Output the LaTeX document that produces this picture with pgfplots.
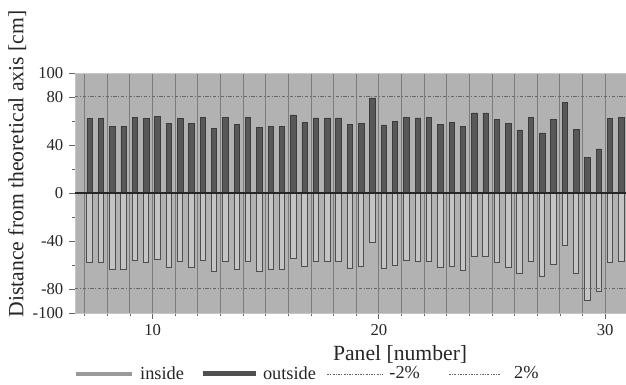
\documentclass[border=0pt]{standalone}
\usepackage{fontspec}
\setmainfont{Liberation Serif}
\usepackage{pgfplots}
\usepackage{pgfplotstable}
\pgfplotsset{compat=1.18}
\definecolor{plotbg}{HTML}{B2B2B2}
\definecolor{outfill}{HTML}{585858}
\definecolor{outdraw}{HTML}{3C3C3C}
\definecolor{infill}{HTML}{C4C4C4}
\definecolor{indraw}{HTML}{4E4E4E}
\definecolor{gridc}{HTML}{7C7C7C}
\definecolor{dashc}{HTML}{686868}
\definecolor{legin}{HTML}{9A9A9A}
\definecolor{legout}{HTML}{505050}
\pgfplotstableread{
x out in
7.22 62.2 -57.8
7.72 62.2 -57.8
8.22 55.6 -63.9
8.72 55.6 -63.9
9.22 63.3 -56.4
9.72 62.2 -57.8
10.22 63.9 -55.6
10.72 58.1 -61.7
11.22 61.9 -57.5
11.72 58.3 -61.7
12.22 63.3 -56.4
12.72 53.6 -65.6
13.22 63.3 -56.7
13.72 57.2 -63.9
14.22 62.8 -57.5
14.72 54.7 -65.3
15.22 55.6 -63.9
15.72 55.6 -63.9
16.22 65.0 -54.4
16.72 58.9 -61.1
17.22 62.5 -57.5
17.72 62.5 -57.5
18.22 62.5 -56.9
18.72 56.9 -63.1
19.22 58.1 -61.1
19.72 79.2 -41.1
20.22 56.7 -62.8
20.72 59.4 -60.6
21.22 63.1 -56.4
21.72 62.5 -57.5
22.22 63.1 -56.9
22.72 56.9 -62.5
23.22 58.9 -61.1
23.72 55.8 -64.4
24.22 66.7 -52.8
24.72 66.7 -52.8
25.22 61.4 -57.8
25.72 57.8 -61.7
26.22 52.5 -67.5
26.72 63.3 -56.9
27.22 50.0 -70.0
27.72 61.1 -59.2
28.22 75.3 -43.9
28.72 53.1 -66.7
29.22 29.7 -89.7
29.72 36.7 -82.5
30.22 61.9 -57.8
30.72 62.8 -56.7
}\data
\begin{document}
\begin{tikzpicture}
\begin{axis}[
  scale only axis, width=330.6pt, height=144pt,
  xmin=6.57, xmax=30.92, ymin=-100, ymax=100,
  axis background/.style={fill=plotbg},
  axis line style={draw=gray!45},
  xtick={10,20,30}, minor xtick={7,...,30},
  xmajorgrids, xminorgrids,
  major grid style={draw=gridc, line width=0.6pt},
  minor grid style={draw=gridc, line width=0.6pt},
  ytick={-100,-80,-40,0,40,80,100}, minor ytick={-60,-20,20,60},
  tick pos=left, tick align=outside,
  major tick length=3.5pt, minor tick length=2pt,
  tick style={color=gray!80!black, line width=0.5pt},
  ticklabel style={font=\fontsize{10}{12}\selectfont, text=black!85},
  /pgf/number format/assume math mode=true,
  xlabel={Panel [number]},
  ylabel={Distance from theoretical axis [cm]},
  label style={font=\fontsize{13}{15}\selectfont, text=black!85},
  xlabel style={at={(axis description cs:0.59,-0.2)}, anchor=base},
  ylabel style={at={(axis description cs:-0.105,0.621)}, anchor=center},
  legend columns=4,
  legend style={at={(axis description cs:-0.002,-0.254)}, anchor=west,
    draw=none, fill=none, inner sep=0pt, outer sep=0pt,
    font=\fontsize{11}{13}\selectfont, text=black!85,
    nodes={inner sep=0pt},
    /tikz/every even column/.append style={column sep=0pt}},
]
\addplot[ybar, bar width=0.24, bar shift=0pt, fill=outfill, draw=outdraw, line width=0.5pt, forget plot] table[x=x, y=out]{\data};
\addplot[ybar, bar width=0.24, bar shift=0pt, fill=infill, draw=indraw, line width=0.6pt, forget plot] table[x=x, y=in]{\data};
\addplot[black!85, line width=0.8pt, forget plot] coordinates {(6.57,0) (30.92,0)};
\addplot[dashc, line width=0.6pt, dash pattern=on 2pt off 1pt on 0.6pt off 1pt, forget plot] coordinates {(6.57,-80) (30.92,-80)};
\addplot[dashc, line width=0.6pt, dash pattern=on 2pt off 1pt on 0.6pt off 1pt, forget plot] coordinates {(6.57,80) (30.92,80)};
\coordinate (pSW) at (rel axis cs:0,0);
\coordinate (pNE) at (rel axis cs:1,1);
\addlegendimage{legend image code/.code={\draw[line width=2.6pt, color=legin] (0pt,0pt) -- (33.6pt,0pt);}}
\addlegendentry{\rule{3.6pt}{0pt}inside\rule{9.6pt}{0pt}}
\addlegendimage{legend image code/.code={\draw[line width=3pt, color=legout] (0pt,0pt) -- (31.8pt,0pt);}}
\addlegendentry{\rule{3pt}{0pt}outside\rule{6.4pt}{0pt}}
\addlegendimage{legend image code/.code={\draw[line width=0.5pt, color=dashc, dash pattern=on 1.2pt off 0.8pt on 0.5pt off 0.8pt] (0pt,0pt) -- (33.6pt,0pt);}}
\addlegendentry{\rule{3.6pt}{0pt}-2\%\rule{17pt}{0pt}}
\addlegendimage{legend image code/.code={\draw[line width=0.5pt, color=dashc, dash pattern=on 1.2pt off 0.8pt on 0.5pt off 0.8pt] (0pt,0pt) -- (30.6pt,0pt);}}
\addlegendentry{\rule{8.4pt}{0pt}2\%}
\end{axis}
\pgfresetboundingbox
\path[use as bounding box] ([xshift=-45pt,yshift=-43.2pt]pSW) rectangle ([yshift=43.8pt]pNE);
\end{tikzpicture}
\end{document}
